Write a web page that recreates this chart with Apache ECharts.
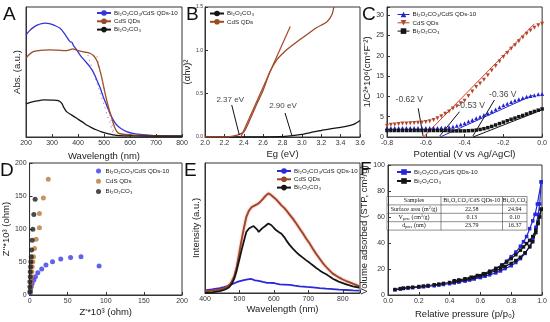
<!DOCTYPE html>
<html><head><meta charset="utf-8">
<script src="https://cdn.jsdelivr.net/npm/echarts@6/dist/echarts.min.js"></script>
<style>html,body{margin:0;padding:0;background:#fff}#c{width:550px;height:322px}</style>
</head><body><div id="c"></div>
<script>
// ---------- names ----------
const N1 = 'Bi₂O₂CO₃/CdS QDs-10', N2 = 'CdS QDs', N3 = 'Bi₂O₂CO₃';

// ---------- Panel A: UV-vis absorbance ----------
const aBlue = [[200,0.785],[215,0.82],[230,0.845],[245,0.862],[260,0.872],[273,0.876],[290,0.872],[310,0.858],[331,0.836],[350,0.79],[365,0.745],[372,0.73],[376,0.73],[382,0.705],[395,0.67],[408,0.63],[425,0.59],[446,0.54],[460,0.495],[472,0.44],[485,0.38],[497,0.31],[510,0.245],[523,0.18],[536,0.13],[549,0.092],[565,0.065],[587,0.041],[610,0.028],[638,0.02],[680,0.013],[741,0.008],[800,0.005]];
const aBrown = [[200,0.605],[210,0.63],[228,0.656],[250,0.665],[270,0.668],[292,0.67],[320,0.668],[356,0.665],[370,0.672],[378,0.678],[390,0.672],[408,0.66],[430,0.652],[446,0.644],[460,0.625],[472,0.59],[482,0.53],[491,0.46],[500,0.375],[510,0.285],[520,0.21],[530,0.146],[542,0.069],[555,0.03],[580,0.02],[613,0.015],[700,0.01],[800,0.008]];
const aBlack = [[200,0.254],[214,0.265],[228,0.272],[250,0.28],[267,0.285],[300,0.284],[324,0.28],[337,0.26],[346,0.225],[356,0.195],[375,0.17],[395,0.144],[415,0.118],[433,0.092],[452,0.072],[472,0.054],[490,0.04],[510,0.028],[535,0.017],[561,0.01],[613,0.008],[700,0.007],[800,0.006]];
const aBlueTan = [[438,0.63],[535,0.03]];
const aBrownTan = [[473,0.62],[538,0.03]];

// ---------- Panel B: Tauc plot ----------
const bBrown = [[2.0,0],[2.2,0],[2.25,0.003],[2.29,0.01],[2.34,0.025],[2.40,0.058],[2.46,0.19],[2.53,0.37],[2.60,0.54],[2.67,0.75],[2.74,0.89],[2.80,0.96],[2.84,1.005],[2.95,1.10],[3.05,1.18],[3.15,1.26],[3.26,1.33],[3.31,1.41],[3.33,1.5]];
const bBlack = [[2.0,0],[2.4,0],[2.6,0.002],[2.77,0.004],[2.88,0.012],[3.0,0.03],[3.12,0.058],[3.2,0.075],[3.29,0.095],[3.4,0.112],[3.5,0.135],[3.55,0.155],[3.6,0.19]];
const bBrownTan = [[2.37,0],[2.88,1.275]];
const bNotes = [{t:'2.37 eV', p:[2.26,0.43], a:[[2.276,0.369],[2.354,0.023]]},{t:'2.90 eV', p:[2.805,0.36], a:[[2.826,0.277],[2.895,0.023]]}];

// ---------- Panel C: Mott-Schottky ----------
const cX = [-0.80,-0.78,-0.76,-0.74,-0.72,-0.70,-0.68,-0.66,-0.64,-0.62,-0.60,-0.58,-0.56,-0.54,-0.52,-0.50,-0.48,-0.46,-0.44,-0.42,-0.40,-0.38,-0.36,-0.34,-0.32,-0.30,-0.28,-0.26,-0.24,-0.22,-0.20,-0.18,-0.16,-0.14,-0.12,-0.10,-0.08,-0.06,-0.04,-0.02,0.00];
const cBlue = [2.2,2.2,2.2,2.2,2.2,2.2,2.2,2.2,2.2,2.2,2.2,2.2,2.2,2.2,2.25,2.3,2.4,2.55,2.8,3.1,3.4,3.8,4.2,4.6,5.0,5.4,5.8,6.3,6.8,7.3,7.8,8.2,8.6,9.0,9.3,9.6,9.9,10.1,10.3,10.5,10.6];
const cBrown = [2.8,3.0,3.1,3.2,3.3,3.35,3.4,3.45,3.5,3.6,3.7,3.9,4.2,4.6,5.1,5.7,6.3,7.0,7.6,8.3,8.9,10.1,11.2,12.3,13.2,14.1,15.2,16.4,17.5,18.6,19.7,20.7,21.7,22.6,23.6,24.5,25.4,26.2,26.9,27.5,27.9];
const cBlack = [1.6,1.6,1.6,1.6,1.6,1.6,1.6,1.6,1.6,1.6,1.6,1.6,1.6,1.6,1.6,1.6,1.55,1.5,1.5,1.5,1.5,1.55,1.6,1.7,1.85,2.05,2.3,2.6,2.95,3.3,3.65,4.0,4.35,4.65,5.0,5.3,5.65,6.0,6.3,6.6,6.9];
const cBlueFit = [[-0.526,0],[-0.048,10.27]];
const cBrownFit = [[-0.612,0],[-0.039,27.9]];
const cBlackFit = [[-0.356,0],[-0.005,6.6]];
const cNotes = [{t:'-0.62 V', p:[-0.685,9.3], a:[[-0.639,7.06],[-0.614,0.25]]},{t:'-0.53 V', p:[-0.366,7.6], a:[[-0.426,6.23],[-0.528,0.25]]},{t:'-0.36 V', p:[-0.203,10.4], a:[[-0.246,9.1],[-0.357,0.25]]}];

// ---------- Panel D: Nyquist ----------
const dBlue = [[0.9,3.5],[1.3,7.6],[2.2,12.6],[3.4,17.6],[5.6,22.7],[7.7,27.7],[10.8,33.8],[15.9,39.3],[21.5,45.3],[30.1,50.4],[40.9,54.4],[53.8,56.9],[67.5,57.9],[91.2,43.8]];
const dBrown = [[1.3,5],[1.7,12.6],[2.2,20.2],[2.6,27.7],[3.0,35.3],[3.4,42.8],[4.3,50.4],[5.2,57.9],[6.5,70.5],[8.6,84.6],[12.9,101.8],[12.9,123.4],[18.1,147.1],[24.5,175.3]];
const dBlack = [[0.4,5],[0.4,12.6],[0.4,20.2],[0.9,27.7],[0.9,35.3],[1.3,42.8],[1.7,50.4],[2.2,57.9],[2.6,68],[3.4,83.1],[4.3,99.7],[5.6,121.9],[7.3,145.1]];

// ---------- Panel E: PL spectra ----------
const eBrown = [[400,0.013],[420,0.018],[443,0.026],[455,0.035],[463,0.046],[470,0.06],[477,0.085],[485,0.13],[492,0.2],[499,0.3],[506,0.405],[513,0.5],[520,0.585],[527,0.63],[535,0.66],[540,0.67],[545,0.674],[550,0.68],[554,0.687],[560,0.7],[565,0.715],[569,0.726],[575,0.745],[580,0.76],[584,0.767],[588,0.76],[593,0.751],[600,0.735],[607,0.718],[615,0.695],[622,0.674],[630,0.655],[636,0.636],[645,0.605],[655,0.572],[665,0.535],[675,0.495],[685,0.455],[694,0.418],[704,0.38],[713,0.341],[723,0.3],[733,0.264],[742,0.23],[752,0.2],[762,0.172],[771,0.149],[781,0.132],[790,0.118],[800,0.104],[810,0.092],[820,0.082],[829,0.072],[840,0.061],[848,0.051]];
const eBlack = [[400,0.0],[420,0.005],[443,0.015],[455,0.024],[463,0.033],[470,0.045],[477,0.067],[485,0.11],[492,0.174],[499,0.25],[506,0.328],[513,0.4],[520,0.469],[527,0.495],[535,0.508],[541,0.515],[546,0.52],[551,0.49],[556,0.47],[560,0.475],[565,0.495],[570,0.508],[575,0.515],[580,0.528],[584,0.535],[589,0.53],[593,0.521],[600,0.5],[607,0.482],[615,0.468],[622,0.456],[630,0.43],[636,0.405],[645,0.372],[655,0.341],[665,0.315],[675,0.29],[685,0.27],[694,0.251],[704,0.232],[713,0.213],[723,0.193],[733,0.174],[742,0.158],[752,0.144],[762,0.126],[771,0.11],[781,0.097],[790,0.085],[800,0.076],[810,0.067],[820,0.058],[829,0.051],[840,0.046],[848,0.041]];
const eBlue = [[400,0.02],[420,0.028],[443,0.038],[455,0.045],[463,0.051],[472,0.062],[482,0.072],[492,0.083],[501,0.092],[510,0.098],[520,0.103],[528,0.106],[535,0.108],[540,0.104],[545,0.097],[552,0.095],[559,0.092],[568,0.085],[578,0.079],[588,0.078],[598,0.077],[607,0.072],[617,0.067],[630,0.065],[646,0.062],[660,0.056],[675,0.051],[695,0.047],[713,0.044],[733,0.038],[752,0.033],[771,0.03],[790,0.026],[810,0.023],[829,0.02],[848,0.018]];

// ---------- Panel F: N2 isotherms ----------
const fBlueAds = [[0.045,4.0],[0.08,4.6],[0.1,5.0],[0.13,5.3],[0.16,5.6],[0.2,6.0],[0.23,6.3],[0.26,6.7],[0.3,7.1],[0.33,7.6],[0.36,8.1],[0.4,8.7],[0.43,9.3],[0.46,9.9],[0.5,10.7],[0.53,11.5],[0.56,12.3],[0.6,13.4],[0.63,14.4],[0.66,15.5],[0.7,17.0],[0.73,18.5],[0.76,20.3],[0.8,22.5],[0.83,25],[0.86,28],[0.89,32],[0.92,37.5],[0.94,43],[0.96,52],[0.975,62],[0.985,70],[0.995,87]];
const fBlueDes = [[0.995,87],[0.97,70],[0.955,62],[0.94,57],[0.92,51],[0.9,45],[0.88,41],[0.86,37.5],[0.83,33],[0.8,29.5],[0.77,26],[0.74,23],[0.7,20],[0.66,17.5],[0.62,15.5],[0.58,14],[0.54,12.5],[0.5,11.3],[0.46,10.5],[0.43,9.8]];
const fBlackAds = [[0.045,4.2],[0.08,4.9],[0.1,5.3],[0.13,5.7],[0.16,6.0],[0.2,6.5],[0.23,6.9],[0.26,7.3],[0.3,7.9],[0.33,8.4],[0.36,8.9],[0.4,9.6],[0.43,10.2],[0.46,10.9],[0.5,11.8],[0.53,12.6],[0.56,13.5],[0.6,14.8],[0.63,15.8],[0.66,17.0],[0.7,18.7],[0.73,20.2],[0.76,22],[0.8,24.3],[0.83,26.5],[0.86,29],[0.89,32.5],[0.92,37],[0.94,41],[0.96,48],[0.975,55],[0.985,60],[0.995,66]];
const fBlackDes = [[0.995,66],[0.975,56],[0.96,50],[0.94,45],[0.92,42],[0.9,39.5],[0.88,37],[0.86,34.5],[0.83,31],[0.8,28],[0.77,25.3],[0.74,23],[0.7,20.5],[0.66,18.3],[0.62,16.4],[0.58,15],[0.54,13.7],[0.5,12.5],[0.46,11.6],[0.43,11]];
const tHead = ['Samples', 'Bi₂O₂CO₃/CdS QDs-10', 'Bi₂O₂CO₃'];
const tRows = [['{n|Surface area (m}{p|2}{n|/g)}','22.58','24.94'],['{n|V}{s|pore}{n| (cm}{p|3}{n|/g)}','0.13','0.10'],['{n|d}{s|pore}{n| (nm)}','23.79','16.37']];

// ---------- build ----------
const FONT = 'Liberation Sans';
const chart = echarts.init(document.getElementById('c'), null, {renderer:'canvas'});
const grids = [
  {left:26, top:7, width:156, height:130},
  {left:205, top:7, width:155, height:130},
  {left:387, top:7, width:156, height:130},
  {left:27, top:163, width:155, height:132},
  {left:205, top:163, width:155, height:130},
  {left:388, top:165, width:154, height:130}
].map(g => Object.assign({show:true, borderColor:'#333', borderWidth:1, backgroundColor:'transparent'}, g));

function ax(i, o) {
  const base = {gridIndex:i, type:'value', nameLocation:'middle',
    nameTextStyle:{fontSize:9.5, color:'#222', fontFamily:FONT},
    axisLine:{show:true, onZero:false, lineStyle:{color:'#333', width:1}},
    axisTick:{show:true, inside:true, length:3, lineStyle:{color:'#333'}},
    axisLabel:{fontSize:7, color:'#333', margin:3, fontFamily:FONT},
    splitLine:{show:false}};
  const r = Object.assign({}, base, o);
  if (o.axisLabel) r.axisLabel = Object.assign({}, base.axisLabel, o.axisLabel);
  if (o.axisTick) r.axisTick = Object.assign({}, base.axisTick, o.axisTick);
  return r;
}
const f1 = v => v.toFixed(1);
const xAxis = [
  ax(0,{min:200,max:800,interval:100,name:'Wavelength (nm)',nameGap:14}),
  ax(1,{min:2.0,max:3.6,interval:0.2,name:'Eg (eV)',nameGap:12,axisLabel:{formatter:f1}}),
  ax(2,{min:-0.8,max:0,interval:0.2,name:'Potential (V vs Ag/AgCl)',nameGap:12,axisLabel:{formatter:f1}}),
  ax(3,{min:0,max:200,interval:50,name:"Z'*10³ (ohm)",nameGap:12}),
  ax(4,{min:400,max:850,interval:100,name:'Wavelength (nm)',nameGap:11,axisLabel:{formatter:v=>v%100===0?v:''}}),
  ax(5,{min:0,max:1,interval:0.2,name:'Relative pressure (p/p₀)',nameGap:14,axisLabel:{formatter:f1}})
];
const yAxis = [
  ax(0,{min:0,max:1,name:'Abs. (a.u.)',nameGap:4,axisLabel:{show:false},axisTick:{show:false}}),
  ax(1,{min:0,max:1.5,interval:0.5,name:'(αhν)²',nameGap:10,axisLabel:{formatter:f1,fontSize:5,margin:2}}),
  ax(2,{min:0,max:32,interval:5,name:'1/C²*10⁶(cm⁴F⁻²)',nameGap:15,axisLabel:{formatter:v=>v%5===0?v:''}}),
  ax(3,{min:0,max:200,interval:50,name:"Z''*10³ (ohm)",nameGap:16}),
  ax(4,{min:0,max:1,name:'Intensity (a.u.)',nameGap:4,axisLabel:{show:false},axisTick:{show:false}}),
  ax(5,{min:0,max:100,interval:20,name:'Volume adsorbed (STP, cm³/g)',nameGap:14})
];

const BLUE='#3535d6', BROWN='#9a4b28', BLACK='#151515';
function line(i, name, data, color, extra) {
  return Object.assign({type:'line', name, xAxisIndex:i, yAxisIndex:i, data, symbol:'none', smooth:false,
    lineStyle:{color, width:1.3}, itemStyle:{color}, silent:true}, extra||{});
}
const series = [];
// A
series.push(line(0, N1+'#A', aBlue, BLUE, {smooth:0.3}));
series.push(line(0, N2+'#A', aBrown, BROWN, {smooth:0.3}));
series.push(line(0, N3+'#A', aBlack, BLACK, {smooth:0.3}));
series.push(line(0, 'tanA1', aBlueTan, '#6a5ad0', {lineStyle:{color:'#7a6ad8',width:1,type:[1,4]}}));
series.push(line(0, 'tanA2', aBrownTan, '#b06a50', {lineStyle:{color:'#b86a50',width:1,type:[1,4]}}));
// B
series.push(line(1, N3+'#B', bBlack, BLACK, {smooth:0.2}));
series.push(line(1, N2+'#B', bBrown, BROWN, {smooth:0.25}));
series.push(line(1, 'tanB', bBrownTan, '#a04a2a', {lineStyle:{color:'#a9462a',width:1.2}}));
// C
const cb = cX.map((x,k)=>[x,cBlue[k]]), cr = cX.map((x,k)=>[x,cBrown[k]]), ck = cX.map((x,k)=>[x,cBlack[k]]);
series.push(line(2, 'fitC3', cBlackFit, BLACK, {lineStyle:{color:BLACK,width:1}}));
series.push(line(2, 'fitC1', cBlueFit, '#2a2ad0', {lineStyle:{color:'#2a2ad0',width:1}}));
series.push(line(2, 'fitC2', cBrownFit, '#d0402a', {lineStyle:{color:'#d0402a',width:1}}));
series.push(line(2, N1+'#C', cb, '#2323cc', {symbol:'triangle', symbolSize:4, showSymbol:true, lineStyle:{color:'#2323cc',opacity:0,width:1}}));
series.push(line(2, N2+'#C', cr, '#b0482a', {symbol:'triangle', symbolRotate:180, symbolSize:4, showSymbol:true, lineStyle:{color:'#b0482a',opacity:0,width:1}}));
series.push(line(2, N3+'#C', ck, BLACK, {symbol:'rect', symbolSize:3.5, showSymbol:true, lineStyle:{color:BLACK,opacity:0,width:1}}));
// annotations B and C
bNotes.forEach((n,k)=>{
  series.push(line(1,'annB'+k,n.a,'#111',{lineStyle:{color:'#111',width:1}}));
  series.push({type:'scatter',name:'labB'+k,xAxisIndex:1,yAxisIndex:1,symbolSize:1,itemStyle:{color:'transparent'},silent:true,
    data:[{value:n.p,t:n.t}],label:{show:true,position:'inside',formatter:p=>p.data.t,fontSize:8,color:'#111',fontFamily:FONT}});
});
cNotes.forEach((n,k)=>{
  series.push(line(2,'annC'+k,n.a,'#111',{lineStyle:{color:'#111',width:1}}));
  series.push({type:'scatter',name:'labC'+k,xAxisIndex:2,yAxisIndex:2,symbolSize:1,itemStyle:{color:'transparent'},silent:true,
    data:[{value:n.p,t:n.t}],label:{show:true,position:'inside',formatter:p=>p.data.t,fontSize:8.5,color:'#111',fontFamily:FONT}});
});
// D
function sc(i,name,data,color){return {type:'scatter',name,xAxisIndex:i,yAxisIndex:i,data,symbol:'circle',symbolSize:5,itemStyle:{color},silent:true};}
series.push(sc(3,N1+'#D',dBlue,'#3a3aea'));
series.push(sc(3,N2+'#D',dBrown,'#b97838'));
series.push(sc(3,N3+'#D',dBlack,'#1c1c1c'));
// E
series.push(line(4, N1+'#E', eBlue, '#2a2ad8', {lineStyle:{color:'#2a2ad8',width:1.8}}));
series.push(line(4, N2+'#E', eBrown, '#9a4628', {lineStyle:{color:'#9a4628',width:1.8,shadowColor:'rgba(230,40,40,0.6)',shadowBlur:2}}));
series.push(line(4, N3+'#E', eBlack, BLACK, {lineStyle:{color:BLACK,width:1.8}}));
// F
const FB='#2626dc';
series.push(line(5, N1+'#F', fBlueAds, FB, {symbol:'rect',symbolSize:3.5,showSymbol:true,lineStyle:{color:FB,width:1.2}}));
series.push(line(5, N1+'#F', fBlueDes, FB, {symbol:'rect',symbolSize:3.5,showSymbol:true,lineStyle:{color:FB,width:1.2}}));
series.push(line(5, N3+'#F', fBlackAds, BLACK, {symbol:'rect',symbolSize:3.5,showSymbol:true,lineStyle:{color:BLACK,width:1.2}}));
series.push(line(5, N3+'#F', fBlackDes, BLACK, {symbol:'rect',symbolSize:3.5,showSymbol:true,lineStyle:{color:BLACK,width:1.2}}));

function leg(names, left, top, o) {
  return Object.assign({data:names, left, top, orient:'vertical', itemWidth:14, itemHeight:7, itemGap:2.3,
    textStyle:{fontSize:6.2, color:'#222', fontFamily:FONT, padding:[0,0,0,-2]}, formatter:n=>n.split('#')[0],
    selectedMode:false, padding:0}, o||{});
}
const legend = [
  leg([N1+'#A',N2+'#A',N3+'#A'], 96, 10),
  leg([N3+'#B',N2+'#B'], 209, 10.5),
  leg([N1+'#C',N2+'#C',N3+'#C'], 397, 11.5, {itemWidth:12, lineStyle:{opacity:1,width:1}}),
  leg([N1+'#D',N2+'#D',N3+'#D'], 96, 168, {itemWidth:8, itemHeight:5, itemGap:4.3}),
  leg([N1+'#E',N2+'#E',N3+'#E'], 276, 168, {itemGap:2.3}),
  leg([N1+'#F',N3+'#F'], 396, 169, {itemWidth:14, itemGap:3})
];

// panel letters and table (layout only)
const letters = [['A',3,5],['B',186,5],['C',362,5],['D',0,161],['E',184,161],['F',360,160]];
const graphic = letters.map(([t,x,y])=>({type:'text',left:x,top:y,silent:true,style:{text:t,fontSize:19,fontFamily:FONT,fill:'#111'}}));
const TX=[387,441,502.5,527], TY=196.5, RH=8.4;
const tEls=[];
tEls.push({type:'rect',shape:{x:TX[0],y:TY,width:TX[3]-TX[0],height:RH*4},style:{fill:'#fff',stroke:'#444',lineWidth:0.6}});
for(let r=1;r<4;r++) tEls.push({type:'line',shape:{x1:TX[0],y1:TY+RH*r,x2:TX[3],y2:TY+RH*r},style:{stroke:'#444',lineWidth:0.6}});
for(let c=1;c<3;c++) tEls.push({type:'line',shape:{x1:TX[c],y1:TY,x2:TX[c],y2:TY+RH*4},style:{stroke:'#444',lineWidth:0.6}});
const rich={n:{fontSize:6,fontFamily:'Liberation Serif',fill:'#111'},s:{fontSize:4,fontFamily:'Liberation Serif',fill:'#111',verticalAlign:'bottom',padding:[3,0,0,0]},p:{fontSize:4,fontFamily:'Liberation Serif',fill:'#111',verticalAlign:'top',padding:[0,0,3,0]}};
const allRows=[tHead.map(h=>'{n|'+h+'}'),...tRows.map(r=>[r[0],'{n|'+r[1]+'}','{n|'+r[2]+'}'])];
allRows.forEach((row,r)=>{
  row.forEach((cell,c)=>{
    tEls.push({type:'text',x:(TX[c]+TX[c+1])/2,y:TY+RH*r+RH/2,style:{text:cell,rich,align:'center',verticalAlign:'middle',fontSize:6,fontFamily:'Liberation Serif',fill:'#111'}});
  });
});
graphic.push({type:'group',silent:true,z:50,children:tEls});

chart.setOption({animation:false, backgroundColor:'#fff', textStyle:{fontFamily:FONT}, grid:grids, xAxis, yAxis, legend, series, graphic});
</script></body></html>
